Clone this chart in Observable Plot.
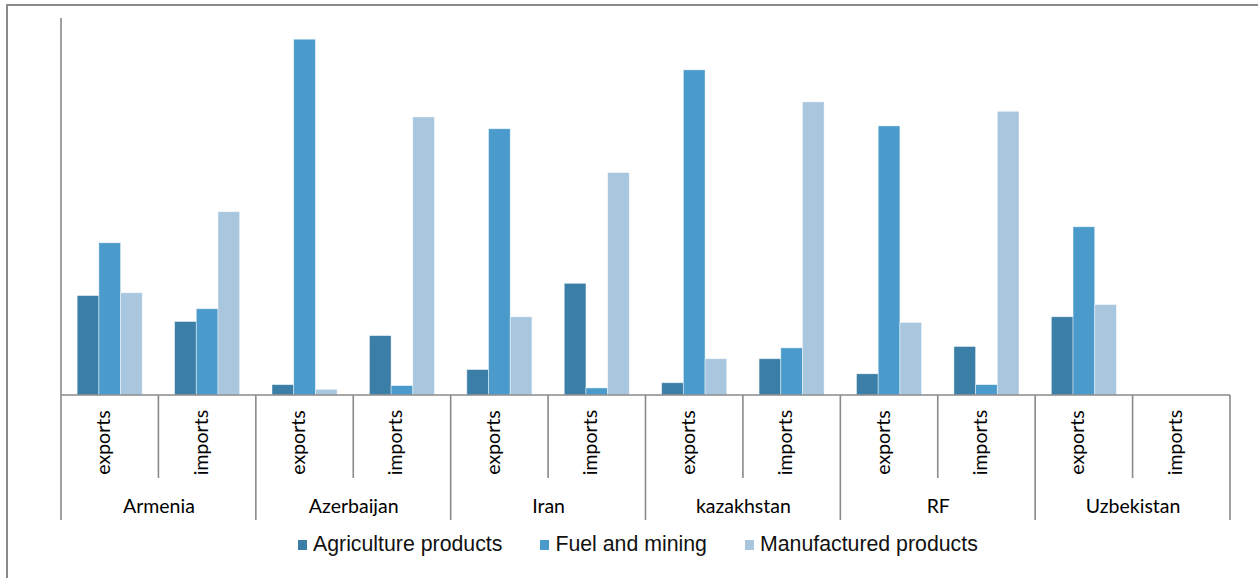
<!DOCTYPE html>
<html><head><meta charset="utf-8">
<script src="https://cdn.jsdelivr.net/npm/d3@7"></script>
<script src="https://cdn.jsdelivr.net/npm/@observablehq/plot@0.6"></script>
<style>
html,body{margin:0;padding:0;background:#fff;}
body{width:1258px;height:578px;overflow:hidden;position:relative;}
#border{position:absolute;left:6px;top:4px;width:1300px;height:640px;border-top:2px solid #8a8a8a;border-left:2px solid #8a8a8a;}
#chart{position:absolute;left:0;top:0;}
#legend{position:absolute;left:298px;top:532px;display:flex;align-items:center;font-family:"Liberation Sans",Arial,sans-serif;font-size:21.3px;color:#111;white-space:nowrap;}
#legend .item{display:flex;align-items:center;margin-right:38px;}
#legend .sw{width:9px;height:10px;margin-right:6px;}
</style></head>
<body>
<div id="border"></div>
<div id="chart"></div>
<div id="legend"></div>
<script>
const countries = ["Armenia","Azerbaijan","Iran","kazakhstan","RF","Uzbekistan"];
const flows = ["exports","imports"];
const products = ["Agriculture products","Fuel and mining","Manufactured products"];
const colors = ["#3b7ea7","#4a9bcb","#a9c6df"];
// values per country/flow, order: Armenia exp, Armenia imp, Azerbaijan exp, ...
const agriculture  = [21.1, 15.6,  2.2, 12.6,  5.4, 23.7,  2.6,  7.7,  4.5, 10.3, 16.6, null];
const fuel         = [32.3, 18.3, 75.5,  2.0, 56.5,  1.5, 69.0, 10.0, 57.1,  2.2, 35.7, null];
const manufactured = [21.7, 38.9,  1.2, 59.0, 16.6, 47.2,  7.7, 62.2, 15.4, 60.2, 19.2, null];
const yMax = 80;

(function () {
const keyRows = [];
countries.forEach(c => flows.forEach(f => keyRows.push({key: c + "|" + f, country: c, flow: f})));
const keys = keyRows.map(d => d.key);
const series = [agriculture, fuel, manufactured];
const rows = [];
keyRows.forEach((k, i) => products.forEach((p, j) => {
  if (series[j][i] != null) rows.push({key: k.key, product: p, value: series[j][i]});
}));
const countryRows = countries.map(c => ({country: c, key: c + "|exports"}));

const W = 1258, H = 530;
const labelFont = "Lato, 'Open Sans', sans-serif";
const plot = Plot.plot({
  width: W, height: H,
  marginLeft: 61, marginRight: 28, marginTop: 18, marginBottom: 135,
  style: {background: "transparent", overflow: "visible"},
  fx: {domain: keys, padding: 0, round: false, axis: null, label: null},
  x: {domain: products, paddingInner: 0, paddingOuter: 0.745, round: false, axis: null, label: null},
  y: {domain: [0, yMax], axis: null, label: null},
  color: {domain: products, range: colors},
  marks: [
    Plot.barY(rows, {fx: "key", x: "product", y: "value", fill: "product", stroke: "#ffffff", strokeOpacity: 0.55, strokeWidth: 0.8}),
    Plot.text(keyRows, {fx: "key", frameAnchor: "bottom", text: "flow", rotate: -90, dy: 47,
      fontFamily: labelFont, fontSize: 19.5, fill: "#000"}),
    Plot.text(countryRows, {fx: "key", frameAnchor: "bottom-right", textAnchor: "middle", text: "country", dy: 117,
      fontFamily: labelFont, fontSize: 19.5, fill: "#000"})
  ]
});
document.getElementById("chart").appendChild(plot);

// axis lines and category separators, placed through Plot's own scales
const fxS = plot.scale("fx"), yS = plot.scale("y");
const band = d3.scaleBand().domain(fxS.domain).range(fxS.range).padding(0);
const fxPos = k => (fxS.apply ? fxS.apply(k) : band(k));
const bw = fxS.bandwidth != null ? fxS.bandwidth : band.bandwidth();
const base = yS.apply(0), yTop = yS.apply(yMax);
const svg = d3.select(plot);
const g = svg.append("g").attr("stroke", "#8a8a8a").attr("stroke-width", 1.6).attr("fill", "none");
const xEnd = fxPos(keys[keys.length - 1]) + bw;
const innerBottom = base + 83, outerBottom = base + 125;
g.append("line").attr("x1", fxPos(keys[0])).attr("x2", xEnd).attr("y1", base).attr("y2", base);
keyRows.forEach((k, i) => {
  const x = fxPos(k.key);
  const y1 = i === 0 ? yTop : base;
  const y2 = k.flow === "exports" ? outerBottom : innerBottom;
  g.append("line").attr("x1", x).attr("x2", x).attr("y1", y1).attr("y2", y2);
});
g.append("line").attr("x1", xEnd).attr("x2", xEnd).attr("y1", base).attr("y2", outerBottom);

// legend
const leg = d3.select("#legend");
products.forEach((p, j) => {
  const it = leg.append("div").attr("class", "item");
  it.append("div").attr("class", "sw").style("background", colors[j]);
  it.append("span").text(p);
});
})();
</script>
</body></html>
